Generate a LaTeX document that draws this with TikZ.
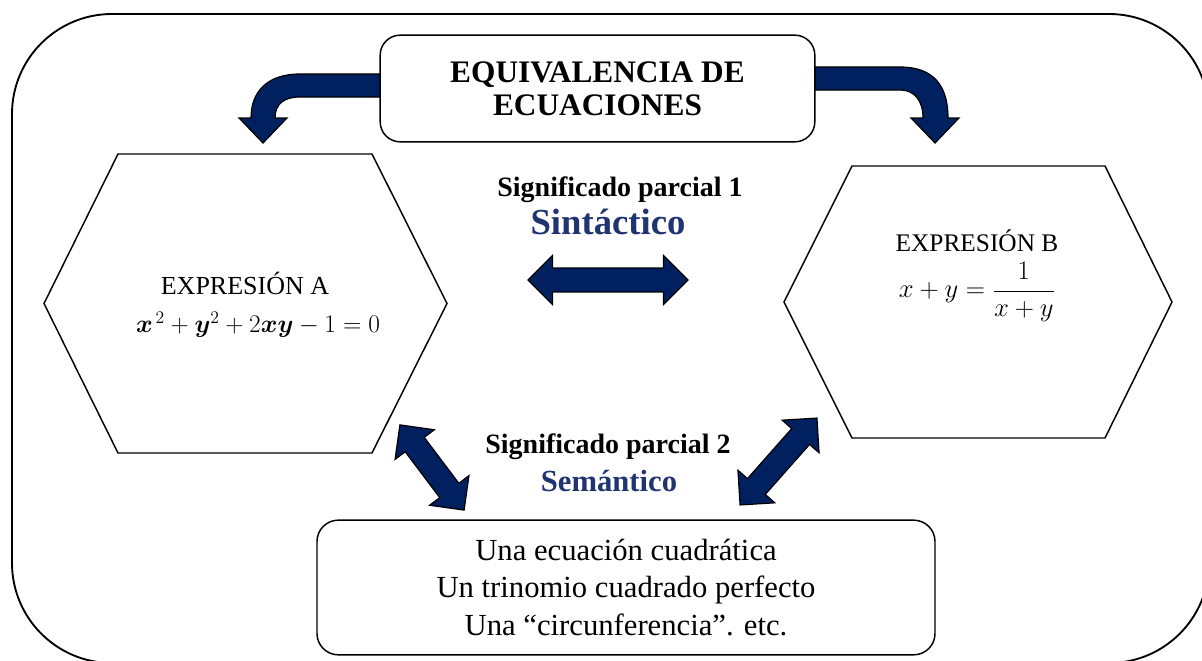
\RequirePackage{fix-cm}
\documentclass[tikz,border=0pt]{standalone}
\usepackage{amsmath,bm}
\usepackage{fontspec}
\setmainfont{Liberation Serif}
\usetikzlibrary{shapes.arrows,calc}

\definecolor{navyfill}{HTML}{002060}
\definecolor{navytext}{HTML}{1F3470}

\tikzset{
  frame/.style={draw, line width=1.4pt, rounded corners=75pt},
  roundbox/.style={draw, fill=white, line width=1.1pt, rounded corners=15pt, align=center},
  hexa/.style={draw, line width=1.1pt},
  fatline/.style={draw=black, fill=navyfill, line width=0.9pt},
  fatdouble/.style={double arrow, draw=black, fill=navyfill, line width=0.9pt,
    minimum height=#1, inner xsep=0pt, inner ysep=8.5pt, double arrow head extend=9.5pt},
  sigtext/.style={font=\fontsize{21}{24}\selectfont\bfseries},
  kindtext/.style={font=\fontsize{#1}{28}\selectfont\bfseries, text=navytext},
}

\begin{document}
\begin{tikzpicture}[x=0.75pt,y=-0.75pt]
	\useasboundingbox (0,0) rectangle (1202,660);
	\draw[frame] (12,14) rectangle (1209,663);

	% curved arrows from the title
	\draw[fatline] (400,74) -- (300,74) .. controls (267,74) and (251,92) .. (251,118)
		-- (239,118) -- (263,143) -- (287,118) -- (275,118)
		.. controls (275,104) and (284,97) .. (300,97) -- (400,97) -- cycle;
	\draw[fatline] (795,67) -- (900,67) .. controls (933,67) and (948,85) .. (948,118)
		-- (959,118) -- (935,143) -- (911,118) -- (923,118)
		.. controls (923,100) and (914,90) .. (900,90) -- (795,90) -- cycle;

	\node[roundbox, minimum width=326pt, minimum height=80pt,
		font=\fontsize{23.5}{25}\selectfont\bfseries] (title) at (597.5,88.5) {EQUIVALENCIA DE\\ECUACIONES};

	% hexagons
	\draw[hexa] (118,154) -- (372,154) -- (447,303.5) -- (372,453) -- (118,453) -- (44,303.5) -- cycle;
	\draw[hexa] (852,166) -- (1105,166) -- (1172,302) -- (1105,438) -- (852,438) -- (784,302) -- cycle;

	\node[font=\fontsize{19.5}{22}\selectfont] (exprA) at (245,283) {EXPRESIÓN A};
	\node[font=\fontsize{19}{24}\selectfont] (eqA) at (258,325) {$\bm{x}^{\,2}+\bm{y}^2+2\bm{x}\bm{y}-1=0$};
	\node[font=\fontsize{19}{22}\selectfont] (exprB) at (977,241) {EXPRESIÓN B};
	\node[font=\fontsize{20}{24}\selectfont] (eqB) at (977,292) {$x+y=\dfrac{1}{x+y}$};

	% meanings
	\node[sigtext] (sig1) at (620,190) {Significado parcial 1};
	\node[kindtext=27.5] (sint) at (608,222) {Sintáctico};
	\node[fatdouble=120pt] (synarrow) at (608,280) {};
	\node[sigtext] (sig2) at (608,447) {Significado parcial 2};
	\node[kindtext=23] (sem) at (609,481) {Semántico};

	\coordinate (la1) at (400,425);
	\coordinate (la2) at (464,510);
	\coordinate (ra1) at (740,505);
	\coordinate (ra2) at (817,418);
	\node[fatdouble=80pt, rotate=-53] (semA) at ($(la1)!.5!(la2)$) {};
	\node[fatdouble=87pt, rotate=48.5] (semB) at ($(ra1)!.5!(ra2)$) {};

	\node[roundbox, rounded corners=16pt, minimum width=463.5pt, minimum height=101pt,
		font=\fontsize{23}{28}\selectfont] (meaning) at (626,587.5)
		{Una ecuación cuadrática\\Un trinomio cuadrado perfecto\\Una “circunferencia”. etc.};
\end{tikzpicture}
\end{document}
